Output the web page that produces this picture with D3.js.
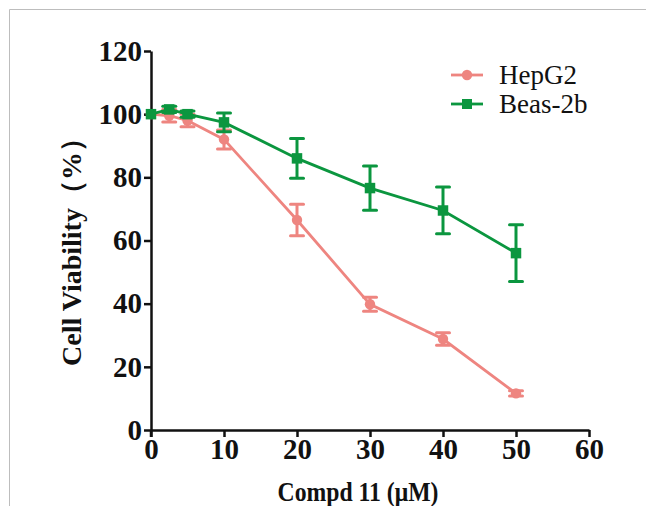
<!DOCTYPE html>
<html>
<head>
<meta charset="utf-8">
<script src="https://cdn.jsdelivr.net/npm/d3@7"></script>
<style>
  body { margin: 0; background: #fff; }
  svg { display: block; }
</style>
</head>
<body>
<div class="container"></div>
<script>
// data
const doses = [0, 2.5, 5, 10, 20, 30, 40, 50];
const hepg2 = [100, 99.5, 98, 92, 66.5, 39.8, 28.8, 11.6];
const hepg2Err = [0, 2, 2, 3, 5, 2.2, 2, 0.8];
const beas = [100, 101.5, 100, 97.4, 86, 76.6, 69.5, 56];
const beasErr = [0, 1, 1, 3, 6.3, 7, 7.4, 9];
const xTicks = [0, 10, 20, 30, 40, 50, 60];
const yTicks = [0, 20, 40, 60, 80, 100, 120];
const seriesNames = ["HepG2", "Beas-2b"];

const width = 646;
const height = 506;
const margin = { top: 51, bottom: 76, left: 151, right: 57 };

const pink = "#ee8580";
const green = "#0b963f";
const serif = "'Liberation Serif', 'Times New Roman', serif";

const svg = d3.select(".container")
  .append("svg")
  .attr("width", width)
  .attr("height", height);

// grey frame at top and left
svg.append("path")
  .attr("d", `M9.5,506 V9.5 H646`)
  .attr("fill", "none")
  .attr("stroke", "#bdbdbd")
  .attr("stroke-width", 1);

const xScale = d3.scaleLinear()
  .domain([0, 60])
  .range([margin.left, width - margin.right]);

const yScale = d3.scaleLinear()
  .domain([0, 120])
  .range([height - margin.bottom, margin.top]);

// axes
const xAxis = svg.append("g")
  .attr("transform", `translate(0, ${yScale(0)})`)
  .call(d3.axisBottom(xScale).tickValues(xTicks).tickSize(7).tickPadding(1).tickSizeOuter(0));

const yAxis = svg.append("g")
  .attr("transform", `translate(${xScale(0)}, 0)`)
  .call(d3.axisLeft(yScale).tickValues(yTicks).tickSize(7).tickPadding(2).tickSizeOuter(0));

[xAxis, yAxis].forEach(g => {
  g.attr("font-family", serif).attr("font-size", 29).attr("font-weight", "bold");
  g.select(".domain").attr("stroke", "#111").attr("stroke-width", 2.5);
  g.selectAll(".tick line").attr("stroke", "#111").attr("stroke-width", 2.5);
  g.selectAll(".tick text").attr("fill", "#111");
});

// y axis sticks a bit under the x axis
svg.append("line")
  .attr("x1", xScale(0)).attr("x2", xScale(0))
  .attr("y1", yScale(0)).attr("y2", yScale(0) + 7)
  .attr("stroke", "#111").attr("stroke-width", 2.5);

// axis titles
svg.append("text")
  .attr("x", 358)
  .attr("y", 501)
  .attr("text-anchor", "middle")
  .attr("font-family", serif)
  .attr("font-weight", "bold")
  .attr("font-size", 27)
  .attr("textLength", 161)
  .attr("lengthAdjust", "spacingAndGlyphs")
  .attr("fill", "#111")
  .text("Compd 11 (μM)");

svg.append("text")
  .attr("transform", `translate(81, 245) rotate(-90)`)
  .attr("text-anchor", "middle")
  .attr("font-family", serif)
  .attr("font-weight", "bold")
  .attr("font-size", 28)
  .attr("fill", "#111")
  .text("Cell Viability（%）");

// draw one series with lines, error bars and markers
function drawSeries(values, errs, color, shape) {
  const pts = doses.map((d, i) => ({ x: d, y: values[i], e: errs[i] }));
  const g = svg.append("g");

  g.append("path")
    .datum(pts)
    .attr("fill", "none")
    .attr("stroke", color)
    .attr("stroke-width", 2.8)
    .attr("d", d3.line().x(d => xScale(d.x)).y(d => yScale(d.y)));

  const eb = g.selectAll(".err")
    .data(pts.filter(d => d.e > 0))
    .join("g")
    .attr("stroke", color)
    .attr("stroke-width", 3);
  eb.append("line")
    .attr("x1", d => xScale(d.x)).attr("x2", d => xScale(d.x))
    .attr("y1", d => yScale(d.y - d.e)).attr("y2", d => yScale(d.y + d.e));
  eb.append("line")
    .attr("x1", d => xScale(d.x) - 6.5).attr("x2", d => xScale(d.x) + 6.5)
    .attr("y1", d => yScale(d.y + d.e)).attr("y2", d => yScale(d.y + d.e))
    .attr("stroke-linecap", "round");
  eb.append("line")
    .attr("x1", d => xScale(d.x) - 6.5).attr("x2", d => xScale(d.x) + 6.5)
    .attr("y1", d => yScale(d.y - d.e)).attr("y2", d => yScale(d.y - d.e))
    .attr("stroke-linecap", "round");

  g.selectAll(".mark")
    .data(pts)
    .join("path")
    .attr("transform", d => `translate(${xScale(d.x)}, ${yScale(d.y)})`)
    .attr("d", d3.symbol().type(shape).size(shape === d3.symbolSquare ? 110 : 85))
    .attr("fill", color);
}

drawSeries(hepg2, hepg2Err, pink, d3.symbolCircle);
drawSeries(beas, beasErr, green, d3.symbolSquare);

// legend
const legend = svg.append("g");
const legendColors = [pink, green];
const legendShapes = [d3.symbolCircle, d3.symbolSquare];
seriesNames.forEach((name, i) => {
  const y = 75 + i * 29;
  legend.append("line")
    .attr("x1", 451).attr("x2", 483)
    .attr("y1", y).attr("y2", y)
    .attr("stroke", legendColors[i]).attr("stroke-width", 2.8);
  legend.append("path")
    .attr("transform", `translate(467, ${y})`)
    .attr("d", d3.symbol().type(legendShapes[i]).size(i ? 100 : 85))
    .attr("fill", legendColors[i]);
  legend.append("text")
    .attr("x", 499).attr("y", y)
    .attr("dy", "0.34em")
    .attr("font-family", serif)
    .attr("font-size", 27)
    .attr("fill", "#111")
    .text(name);
});
</script>
</body>
</html>
